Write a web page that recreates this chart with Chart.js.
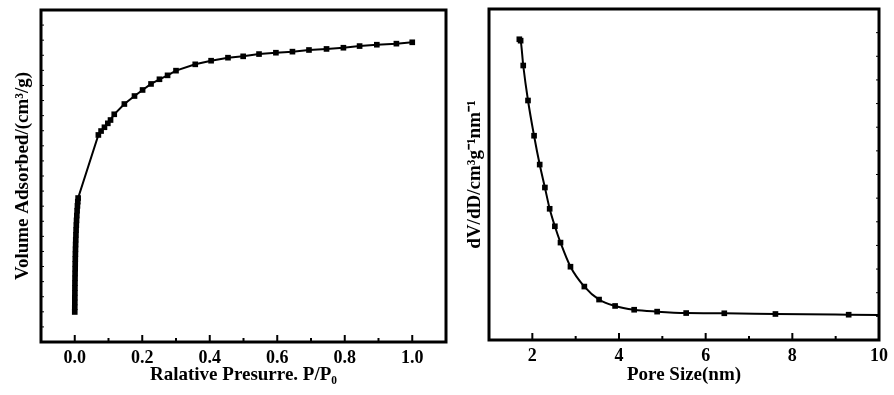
<!DOCTYPE html>
<html>
<head>
<meta charset="utf-8">
<script src="https://cdn.jsdelivr.net/npm/chart.js@4.4.1/dist/chart.umd.min.js"></script>
<style>
html, body { margin: 0; padding: 0; background: #fff; }
#wrap { position: relative; width: 894px; height: 395px; }
.box { position: absolute; top: 0; height: 395px; }
#left { left: 0; width: 450px; }
#right { left: 450px; width: 444px; }
</style>
</head>
<body>
<div id="wrap">
    <div class="box" id="left"><canvas id="isothermChart"></canvas></div>
    <div class="box" id="right"><canvas id="poreChart"></canvas></div>
</div>
<script>

// N2 adsorption isotherm (left panel)
const pressure = [0.0000, 0.0001, 0.0002, 0.0003, 0.0004, 0.0005, 0.0006, 0.0008, 0.0010, 0.0012,
    0.0014, 0.0016, 0.0019, 0.0022, 0.0026, 0.0030, 0.0035, 0.0040, 0.0046, 0.0053, 0.0061,
    0.0070, 0.0080, 0.0090, 0.0100,
    0.070, 0.078, 0.088, 0.098, 0.106, 0.117, 0.147, 0.177, 0.201, 0.226, 0.251, 0.275, 0.300,
    0.357, 0.404, 0.454, 0.499, 0.546, 0.596, 0.645, 0.694, 0.746, 0.796, 0.844, 0.895, 0.953, 1.000];
const adsorbed = [1.99, 2.30, 2.62, 2.94, 3.26, 3.58, 3.90, 4.22, 4.54, 4.86,
    5.18, 5.50, 5.82, 6.14, 6.46, 6.78, 7.10, 7.42, 7.74, 8.06, 8.38,
    8.70, 9.02, 9.30, 9.54,
    13.72, 13.98, 14.23, 14.49, 14.71, 15.09, 15.77, 16.30, 16.70, 17.10, 17.41, 17.67, 17.98,
    18.40, 18.64, 18.84, 18.93, 19.08, 19.17, 19.24, 19.35, 19.42, 19.50, 19.61, 19.70, 19.77, 19.86];

// pore size distribution (right panel)
const poreSize = [1.70, 1.73, 1.79, 1.90, 2.04, 2.17, 2.29, 2.40, 2.52, 2.65, 2.88, 3.20,
    3.54, 3.91, 4.35, 4.88, 5.55, 6.43, 7.61, 9.30, 10.60];
const dvdd = [12.72, 12.66, 11.61, 10.13, 8.64, 7.42, 6.45, 5.55, 4.81, 4.12, 3.10, 2.26,
    1.71, 1.44, 1.28, 1.20, 1.14, 1.13, 1.10, 1.07, 1.05];

// tick labels and minor tick positions
const pressureTicks = [0, 0.2, 0.4, 0.6, 0.8, 1.0];
const pressureMinor = [0.1, 0.3, 0.5, 0.7, 0.9];
const poreTicks = [2, 4, 6, 8, 10];
const poreMinor = [3, 5, 7, 9];

const serif = "'Liberation Serif', 'Times New Roman', serif";

// frame box + inward tick marks
const framePlugin = {
    id: "frame",
    afterDatasetsDraw(chart, args, opts) {
        const { ctx, chartArea: a, scales } = chart;
        ctx.save();
        ctx.strokeStyle = "#000";

        const tickX = (vals, len) => {
            vals.forEach(v => {
                const px = scales.x.getPixelForValue(v);
                if (px <= a.left + 1 || px >= a.right - 1) return;
                ctx.beginPath();
                ctx.moveTo(px, a.bottom);
                ctx.lineTo(px, a.bottom - len);
                ctx.stroke();
            });
        };
        ctx.lineWidth = 2;
        tickX(opts.major, 7);
        tickX(opts.minor, 4);

        ctx.lineWidth = 1;
        for (let v = scales.y.min + 1; v < scales.y.max; v++) {
            const py = scales.y.getPixelForValue(v);
            ctx.beginPath();
            if (opts.side === "left") {
                ctx.moveTo(a.left, py);
                ctx.lineTo(a.left + 3, py);
            } else {
                ctx.moveTo(a.right, py);
                ctx.lineTo(a.right - 3, py);
            }
            ctx.stroke();
        }

        ctx.lineWidth = 3;
        ctx.strokeRect(a.left, a.top, a.width, a.height);
        ctx.restore();
    }
};

function makeChart(id, cfg) {
    const ctx = document.getElementById(id);

    return new Chart(ctx, {
        type: "line",
        data: {
            datasets: [{
                data: cfg.xs.map((x, i) => ({ x: x, y: cfg.ys[i] })),
                borderColor: "#000",
                backgroundColor: "#000",
                borderWidth: 2,
                pointStyle: "rect",
                pointRadius: 4,
                pointBorderWidth: 0,
                tension: cfg.tension,
                cubicInterpolationMode: cfg.tension ? "monotone" : "default",
                clip: 0
            }]
        },
        options: {
            responsive: true,
            maintainAspectRatio: false,
            animation: false,
            layout: {
                padding: { top: cfg.top, right: cfg.right, bottom: 0, left: 0 }
            },
            plugins: {
                legend: { display: false },
                tooltip: { enabled: false },
                frame: { major: cfg.ticks, minor: cfg.minor, side: cfg.side }
            },
            scales: {
                x: {
                    type: "linear",
                    min: cfg.xMin,
                    max: cfg.xMax,
                    grid: { display: false, drawTicks: false },
                    border: { display: false },
                    afterBuildTicks: s => { s.ticks = cfg.ticks.map(v => ({ value: v })); },
                    afterFit: s => { s.height = cfg.bottomH; },
                    ticks: {
                        autoSkip: false,
                        maxRotation: 0,
                        padding: 6,
                        color: "#000",
                        font: { family: serif, size: 18, weight: "bold" },
                        callback: cfg.fmt
                    },
                    title: {
                        display: true,
                        text: cfg.xTitle,
                        color: "#000",
                        font: { family: serif, size: 19, weight: "bold" },
                        padding: { top: 0, bottom: 9 }
                    }
                },
                y: {
                    type: "linear",
                    min: 0,
                    max: cfg.yMax,
                    grid: { display: false, drawTicks: false },
                    border: { display: false },
                    ticks: { display: false },
                    afterFit: s => { s.width = cfg.leftW; },
                    title: {
                        display: true,
                        text: cfg.yTitle,
                        color: "#000",
                        font: { family: serif, size: 19, weight: "bold" },
                        padding: { top: cfg.yTitlePad, bottom: 0 }
                    }
                }
            }
        },
        plugins: [framePlugin]
    });
}

makeChart("isothermChart", {
    xs: pressure,
    ys: adsorbed,
    tension: 0,
    xMin: -0.1,
    xMax: 1.1,
    yMax: 22,
    ticks: pressureTicks,
    minor: pressureMinor,
    side: "left",
    fmt: v => Number(v).toFixed(1),
    xTitle: "Ralative Presurre. P/P\u2080",
    yTitle: "Volume Adsorbed/(cm\u00b3/g)",
    top: 10,
    right: 2,
    leftW: 41,
    bottomH: 53,
    yTitlePad: 12
});

makeChart("poreChart", {
    xs: poreSize,
    ys: dvdd,
    tension: 0.4,
    xMin: 1,
    xMax: 10,
    yMax: 14,
    ticks: poreTicks,
    minor: poreMinor,
    side: "right",
    fmt: v => String(v),
    xTitle: "Pore Size(nm)",
    yTitle: "dV/dD/cm\u00b3g\u207b\u00b9nm\u207b\u00b9",
    top: 9,
    right: 12,
    leftW: 39,
    bottomH: 55,
    yTitlePad: 14
});

</script>
</body>
</html>
